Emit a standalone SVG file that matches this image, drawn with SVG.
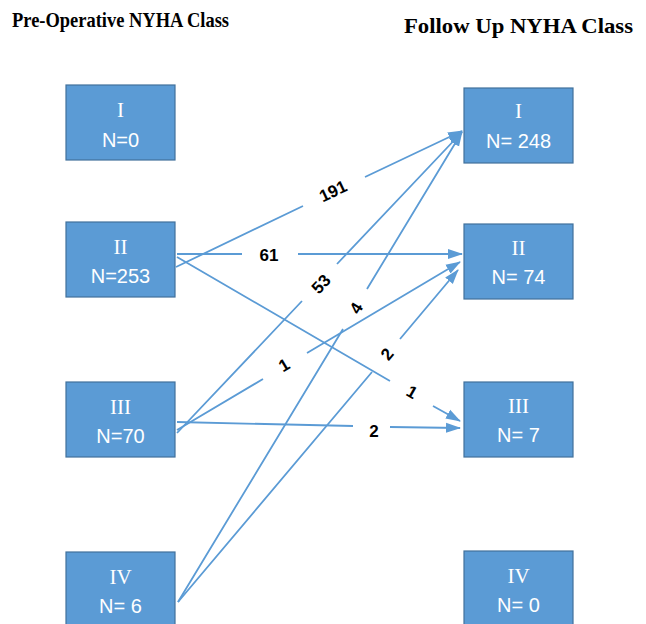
<svg xmlns="http://www.w3.org/2000/svg" width="646" height="624" viewBox="0 0 646 624">
<style>
.box{fill:#5B9BD5;stroke:#41719C;stroke-width:1.2}
.rn{font-family:"Liberation Serif",serif;font-size:21px;fill:#fff;text-anchor:middle}
.nv{font-family:"Liberation Sans",sans-serif;font-size:20px;fill:#fff;text-anchor:middle}
.ttl{font-family:"Liberation Serif",serif;font-weight:bold;font-size:21px;fill:#000}
.ln{fill:none;stroke:#5B9BD5;stroke-width:1.8;marker-end:url(#ah)}
.lb{font-family:"Liberation Sans",sans-serif;font-weight:bold;font-size:17px;fill:#000;text-anchor:middle}
</style>
<defs>
<marker id="ah" markerUnits="userSpaceOnUse" markerWidth="15" markerHeight="12" refX="14" refY="5" orient="auto" viewBox="0 0 15 10">
<path d="M0,0 L15,5 L0,10 Z" fill="#5B9BD5"/>
</marker>
</defs>
<rect width="646" height="624" fill="#fff"/>
<text class="ttl" x="12" y="27" textLength="217" lengthAdjust="spacingAndGlyphs">Pre-Operative NYHA Class</text>
<text class="ttl" x="404" y="33" textLength="229" lengthAdjust="spacingAndGlyphs">Follow Up NYHA Class</text>

<g id="connectors">
<path class="ln" d="M176,267 L303,206 M365,177 L462,131"/>
<path class="ln" d="M177,254 L242,254 M298,254 L462,254"/>
<path class="ln" d="M177,257 L390,381 M433,406 L460,421"/>
<path class="ln" d="M177,433 L302,301 M337,264 L462,132"/>
<path class="ln" d="M177,430 L263,379 M307,353 L460,262"/>
<path class="ln" d="M177,422 L353,426 M390,427 L460,428"/>
<path class="ln" d="M178,602 L343,329 M367,289 L462,132"/>
<path class="ln" d="M178,602 L372,372 M400,339 L458,270"/>
<text class="lb" transform="translate(333,191) rotate(-25.4)" dy="0.35em">191</text>
<text class="lb" transform="translate(269,255)" dy="0.35em">61</text>
<text class="lb" transform="translate(321,284) rotate(-46.6)" dy="0.35em">53</text>
<text class="lb" transform="translate(356,308) rotate(-58.9)" dy="0.35em">4</text>
<text class="lb" transform="translate(284,365) rotate(-30.7)" dy="0.35em">1</text>
<text class="lb" transform="translate(387,354) rotate(-49.9)" dy="0.35em">2</text>
<text class="lb" transform="translate(412,392) rotate(30.1)" dy="0.35em">1</text>
<text class="lb" transform="translate(374,431)" dy="0.35em">2</text>
</g>

<g id="pre-I"><rect class="box" x="66" y="85" width="109" height="75"/><text class="rn" x="120.5" y="117">I</text><text class="nv" x="120.5" y="147">N=0</text></g>
<g id="pre-II"><rect class="box" x="66" y="222" width="109" height="75"/><text class="rn" x="120.5" y="254">II</text><text class="nv" x="120.5" y="283">N=253</text></g>
<g id="pre-III"><rect class="box" x="66" y="382" width="109" height="75"/><text class="rn" x="120.5" y="414">III</text><text class="nv" x="120.5" y="443">N=70</text></g>
<g id="pre-IV"><rect class="box" x="66" y="552" width="109" height="75"/><text class="rn" x="120.5" y="584">IV</text><text class="nv" x="120.5" y="613">N= 6</text></g>

<g id="fu-I"><rect class="box" x="464" y="88" width="109" height="75"/><text class="rn" x="518.5" y="118">I</text><text class="nv" x="518.5" y="148">N= 248</text></g>
<g id="fu-II"><rect class="box" x="464" y="224" width="109" height="75"/><text class="rn" x="518.5" y="255">II</text><text class="nv" x="518.5" y="284">N= 74</text></g>
<g id="fu-III"><rect class="box" x="464" y="382" width="109" height="75"/><text class="rn" x="518.5" y="413">III</text><text class="nv" x="518.5" y="442">N= 7</text></g>
<g id="fu-IV"><rect class="box" x="464" y="551" width="109" height="75"/><text class="rn" x="518.5" y="583">IV</text><text class="nv" x="518.5" y="612">N= 0</text></g>
</svg>
